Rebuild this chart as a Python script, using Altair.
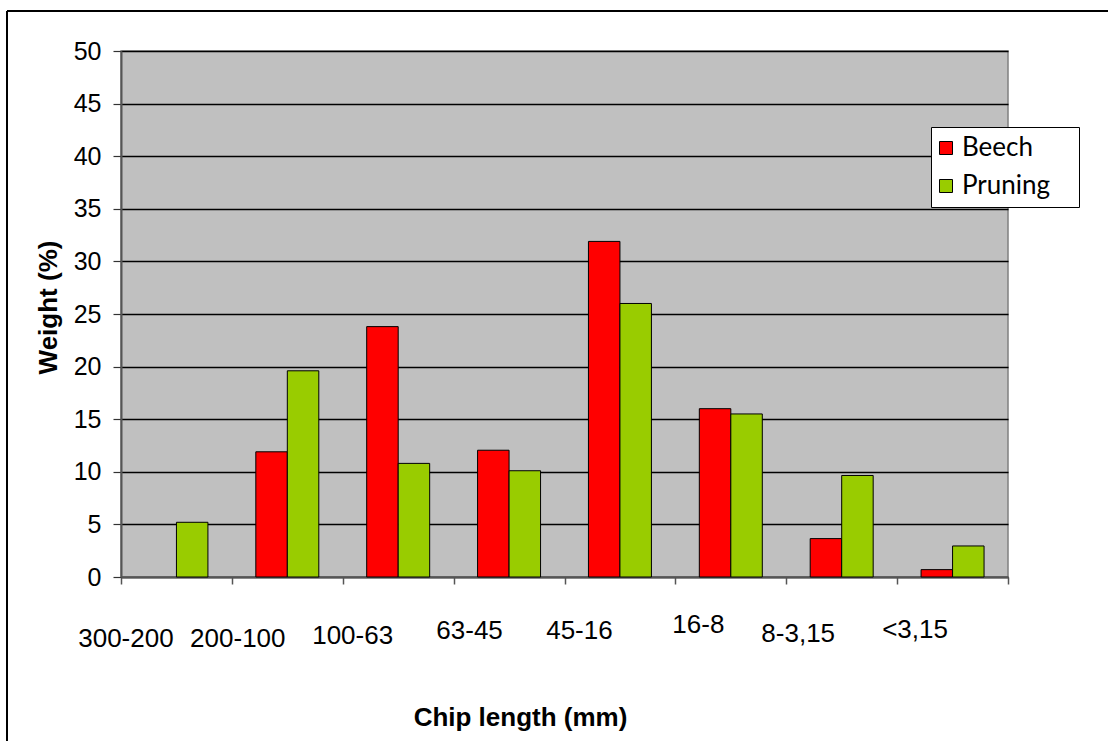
import altair as alt
import pandas as pd

# Chip length classes and weight share (%) per material
categories = ["300-200", "200-100", "100-63", "63-45", "45-16", "16-8", "8-3,15", "<3,15"]
beech = [0, 11.9, 23.8, 12.05, 31.9, 16.0, 3.65, 0.7]
pruning = [5.2, 19.6, 10.8, 10.1, 26.0, 15.5, 9.65, 2.95]
series = ["Beech", "Pruning"]
colors = ["#FF0000", "#99CC00"]
y_ticks = list(range(0, 51, 5))

# Per-label nudges for the staggered class labels under the x axis
label_dx = [-51, -50, -46, -40, -41, -33, -44, -38]
label_pad = [41, 41, 38, 33, 33, 27, 36, 32]

rows = []
for cat, b, p in zip(categories, beech, pruning):
    rows.append({"size": cat, "series": "Beech", "weight": b})
    rows.append({"size": cat, "series": "Pruning", "weight": p})
df = pd.DataFrame(rows)

cat_list = "[" + ",".join("'" + c + "'" for c in categories) + "]"
dx_expr = "[" + ",".join(str(v) for v in label_dx) + "][indexof(" + cat_list + ", datum.value)]"
pad_expr = "[" + ",".join(str(v) for v in label_pad) + "][indexof(" + cat_list + ", datum.value)]"

W, H = 887, 526

bars = alt.Chart(df).mark_bar(strokeWidth=1).encode(
    x=alt.X(
        "size:N",
        sort=categories,
        scale=alt.Scale(paddingInner=0, paddingOuter=0),
        axis=alt.Axis(
            title="Chip length (mm)",
            titleFont="Liberation Sans",
            titleFontSize=26,
            titleFontWeight="bold",
            titleColor="black",
            titleX=399,
            titleY=148,
            titleAlign="center",
            titleBaseline="alphabetic",
            labelAngle=0,
            labelFont="Liberation Sans",
            labelFontSize=26,
            labelColor="black",
            labelOffset={"expr": dx_expr},
            labelPadding={"expr": pad_expr},
            labelOverlap=False,
            labelBound=False,
            tickBand="extent",
            tickSize=7,
            tickColor="#555555",
            tickWidth=1.5,
            domainColor="#555555",
            domainWidth=2,
            grid=False,
        ),
    ),
    xOffset=alt.XOffset(
        "series:N",
        sort=series,
        scale=alt.Scale(paddingInner=0, paddingOuter=0.76),
    ),
    y=alt.Y(
        "weight:Q",
        scale=alt.Scale(domain=[0, 50], nice=False),
        axis=alt.Axis(
            title="Weight (%)",
            titleFont="Liberation Sans",
            titleFontSize=26,
            titleFontWeight="bold",
            titleColor="black",
            titleX=-73,
            titleY=256,
            titleAngle=-90,
            titleAlign="center",
            titleBaseline="middle",
            values=y_ticks,
            labelFont="Liberation Sans",
            labelFontSize=25,
            labelColor="black",
            labelPadding=12,
            tickSize=8,
            tickColor="#333333",
            tickWidth=1.2,
            domainColor="#555555",
            domainWidth=2,
            grid=True,
            gridColor="#000000",
            gridWidth=1.3,
        ),
    ),
    color=alt.Color(
        "series:N",
        sort=series,
        scale=alt.Scale(domain=series, range=colors),
        legend=alt.Legend(
            # blank title on the right side keeps white room after the labels
            title="\u00a0",
            titleOrient="right",
            titlePadding=21,
            titleFontSize=10,
            orient="none",
            legendX=810,
            legendY=76,
            fillColor="white",
            strokeColor="black",
            padding=8,
            cornerRadius=0,
            symbolType="square",
            symbolSize=169,
            symbolStrokeColor="black",
            symbolStrokeWidth=1,
            symbolOpacity=1,
            symbolOffset=-6,
            labelFont="Lato",
            labelFontSize=26,
            labelColor="black",
            labelOffset=3,
            rowPadding=12,
        ),
    ),
    # empty classes get no outline along the baseline
    stroke=alt.condition("datum.weight > 0", alt.value("black"), alt.value("transparent")),
)

# Outer frame of the figure (top and left edges)
frame_data = pd.DataFrame({"k": [0]})
frame_top = alt.Chart(frame_data).mark_rule(color="black", strokeWidth=2).encode(
    x=alt.value(-114), x2=alt.value(987), y=alt.value(-40)
)
frame_left = alt.Chart(frame_data).mark_rule(color="black", strokeWidth=2).encode(
    x=alt.value(-114), y=alt.value(-40), y2=alt.value(690)
)

chart = (
    alt.layer(bars, frame_top, frame_left)
    .properties(
        width=W,
        height=H,
        padding={"left": 6, "top": 10, "right": 0, "bottom": 0},
        background="white",
    )
    .configure_view(fill="#C0C0C0", stroke="#808080", strokeWidth=1.5)
)

chart.save("out.html", embed_options={"renderer": "svg", "actions": False})
